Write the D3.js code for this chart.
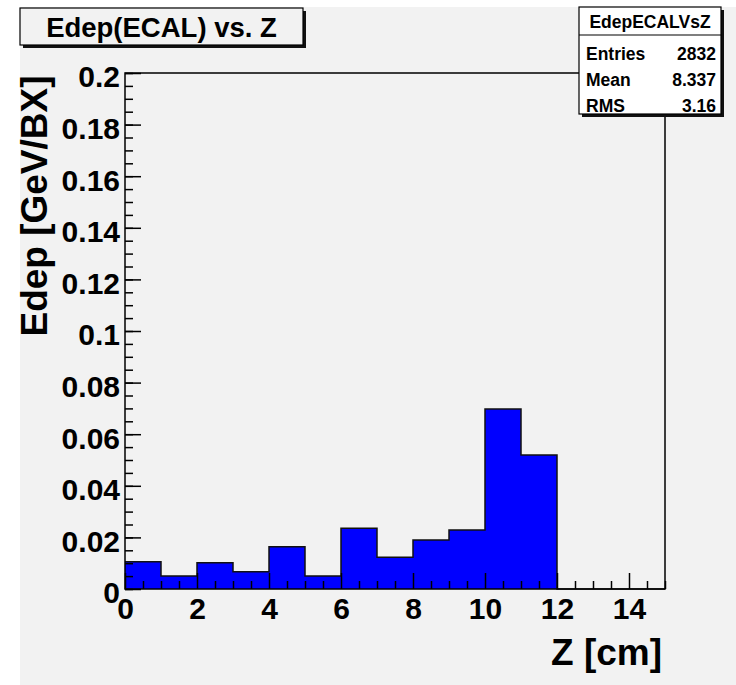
<!DOCTYPE html>
<html>
<head>
<meta charset="utf-8">
<script src="https://cdn.jsdelivr.net/npm/d3@7"></script>
<style>
  html, body { margin: 0; padding: 0; background: #ffffff; }
  svg text { font-family: "Liberation Sans", Arial, Helvetica, sans-serif; font-weight: bold; fill: #000; }
</style>
</head>
<body>
<script>
// Edep(ECAL) vs. Z – ROOT style histogram redrawn with D3

// bin lower edges (cm) and energy deposit per bin (GeV/BX)
const zBins = [0, 1, 2, 3, 4, 5, 6, 7, 8, 9, 10, 11, 12, 13, 14];
const edepValues = [0.0106, 0.0050, 0.0102, 0.0067, 0.0164, 0.0050, 0.0235, 0.0123, 0.0190, 0.0229, 0.0698, 0.0519, 0, 0, 0];
const binWidth = 1;

const xTickValues = [0, 2, 4, 6, 8, 10, 12, 14];
const yTickValues = [0, 0.02, 0.04, 0.06, 0.08, 0.1, 0.12, 0.14, 0.16, 0.18, 0.2];

const statsTitle = 'EdepECALVsZ';
const statsLabels = ['Entries', 'Mean', 'RMS'];
const statsValues = ['2832', '8.337', '3.16'];

const W = 736, H = 685;
const frame = { left: 125, right: 665, top: 73, bottom: 589 };
const bg = '#f2f2f2';

const svg = d3.select('body').append('svg')
    .attr('width', W)
    .attr('height', H);

// canvas background
svg.append('rect')
    .attr('x', 20).attr('y', 7)
    .attr('width', W - 20).attr('height', H - 7)
    .attr('fill', bg);

const x = d3.scaleLinear().domain([0, 15]).range([frame.left, frame.right]);
const y = d3.scaleLinear().domain([0, 0.2]).range([frame.bottom, frame.top]);

// histogram: fill + step outline
const steps = [];
zBins.forEach((z, i) => {
    steps.push([z, edepValues[i]]);
    steps.push([z + binWidth, edepValues[i]]);
});

svg.append('path')
    .datum(steps)
    .attr('fill', '#0000ff')
    .attr('d', d3.area().x(d => x(d[0])).y0(y(0)).y1(d => y(d[1])));

svg.append('path')
    .datum(steps)
    .attr('fill', 'none')
    .attr('stroke', '#111')
    .attr('stroke-width', 1.5)
    .attr('d', d3.line().x(d => x(d[0])).y(d => y(d[1])));

// frame
svg.append('rect')
    .attr('x', frame.left).attr('y', frame.top)
    .attr('width', frame.right - frame.left)
    .attr('height', frame.bottom - frame.top)
    .attr('fill', 'none')
    .attr('stroke', '#000')
    .attr('stroke-width', 1.5);

// minor ticks
const xMinor = d3.range(0, 15.01, 0.5).filter(v => !xTickValues.includes(v));
const yMinor = d3.range(0, 20.01, 0.5).map(v => v / 100);

svg.append('g')
    .attr('transform', `translate(0,${frame.bottom})`)
    .call(d3.axisBottom(x).tickValues(xMinor).tickSizeInner(-8).tickSizeOuter(0).tickFormat(''))
    .call(g => g.select('.domain').remove())
    .call(g => g.selectAll('line').attr('stroke', '#000').attr('stroke-width', 1.5));

svg.append('g')
    .attr('transform', `translate(${frame.left},0)`)
    .call(d3.axisLeft(y).tickValues(yMinor).tickSizeInner(-8).tickSizeOuter(0).tickFormat(''))
    .call(g => g.select('.domain').remove())
    .call(g => g.selectAll('line').attr('stroke', '#000').attr('stroke-width', 1.5));

// major ticks + labels
svg.append('g')
    .attr('transform', `translate(0,${frame.bottom})`)
    .call(d3.axisBottom(x).tickValues(xTickValues).tickSizeInner(-16).tickSizeOuter(0).tickPadding(9).tickFormat(d => String(d)))
    .call(g => g.select('.domain').remove())
    .call(g => g.selectAll('line').attr('stroke', '#000').attr('stroke-width', 1.5))
    .call(g => g.selectAll('text').attr('font-size', 30).attr('fill', '#000')
        .style('font-family', '"Liberation Sans", Arial, sans-serif').style('font-weight', 'bold'));

svg.append('g')
    .attr('transform', `translate(${frame.left},0)`)
    .call(d3.axisLeft(y).tickValues(yTickValues).tickSizeInner(-16).tickSizeOuter(0).tickPadding(5).tickFormat(d => String(d)))
    .call(g => g.select('.domain').remove())
    .call(g => g.selectAll('line').attr('stroke', '#000').attr('stroke-width', 1.5))
    .call(g => g.selectAll('text').attr('font-size', 30).attr('dy', '0.46em').attr('fill', '#000')
        .style('font-family', '"Liberation Sans", Arial, sans-serif').style('font-weight', 'bold'));

// axis titles
svg.append('text')
    .attr('x', 662).attr('y', 665)
    .attr('text-anchor', 'end')
    .attr('font-size', 37)
    .text('Z [cm]');

svg.append('text')
    .attr('transform', 'translate(47,206) rotate(-90)')
    .attr('text-anchor', 'middle')
    .attr('font-size', 37)
    .text('Edep [GeV/BX]');

// title box with shadow
const tb = { x: 20, y: 8, w: 283, h: 37 };
svg.append('rect')
    .attr('x', tb.x + 3).attr('y', tb.y + 3)
    .attr('width', tb.w).attr('height', tb.h)
    .attr('fill', '#111');
svg.append('rect')
    .attr('x', tb.x).attr('y', tb.y)
    .attr('width', tb.w).attr('height', tb.h)
    .attr('fill', bg)
    .attr('stroke', '#000')
    .attr('stroke-width', 1.2);
svg.append('text')
    .attr('x', tb.x + tb.w / 2).attr('y', 37)
    .attr('text-anchor', 'middle')
    .attr('font-size', 27.5)
    .text('Edep(ECAL) vs. Z');

// stats box with shadow
const sb = { x: 579, y: 7, w: 142, h: 107 };
svg.append('rect')
    .attr('x', sb.x + 3).attr('y', sb.y + 3)
    .attr('width', sb.w).attr('height', sb.h)
    .attr('fill', '#111');
svg.append('rect')
    .attr('x', sb.x).attr('y', sb.y)
    .attr('width', sb.w).attr('height', sb.h)
    .attr('fill', '#ffffff')
    .attr('stroke', '#000')
    .attr('stroke-width', 1.2);
svg.append('line')
    .attr('x1', sb.x).attr('x2', sb.x + sb.w)
    .attr('y1', 35).attr('y2', 35)
    .attr('stroke', '#000')
    .attr('stroke-width', 1.2);
svg.append('text')
    .attr('x', sb.x + sb.w / 2).attr('y', 28)
    .attr('text-anchor', 'middle')
    .attr('font-size', 17.5)
    .text(statsTitle);

const rowY = [60, 86, 112];
statsLabels.forEach((lab, i) => {
    svg.append('text')
        .attr('x', 586).attr('y', rowY[i])
        .attr('font-size', 17.5)
        .text(lab);
    svg.append('text')
        .attr('x', 716).attr('y', rowY[i])
        .attr('text-anchor', 'end')
        .attr('font-size', 17.5)
        .text(statsValues[i]);
});
</script>
</body>
</html>
